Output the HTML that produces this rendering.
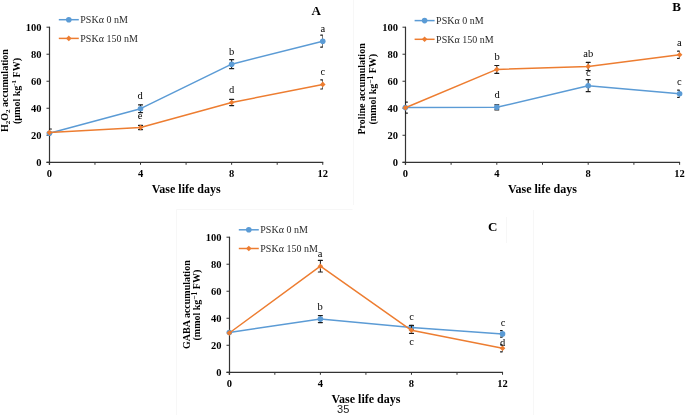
<!DOCTYPE html>
<html><head><meta charset="utf-8"><style>
html,body{margin:0;padding:0;background:#fff;width:685px;height:417px;overflow:hidden}
svg{display:block;will-change:transform;filter:blur(0.3px)}
text{font-family:"Liberation Serif",serif}
.tl{font-size:10.5px;font-weight:bold;fill:#000}
.sl{font-size:10.5px;fill:#000}
.lg{font-size:10px;fill:#2a2a2a}
.al{}
.xt{font-size:12px;font-weight:bold;fill:#000}
.pl{font-size:13px;font-weight:bold;fill:#000}
.yt{font-size:10px;font-weight:bold;fill:#000}
.sub,.sup{font-size:7px}
.sup2{font-size:7.5px}
.pn{font-family:"Liberation Sans",sans-serif;font-size:11px;fill:#222}
</style></head><body>
<svg width="685" height="417" viewBox="0 0 685 417">
<path d="M176.5 415V209.5H352.5M506.5 217V243M533.5 210V415M353.5 0V205" fill="none" stroke="#f7f7f7" stroke-width="1"/>
<line x1="49.5" y1="26.70" x2="49.5" y2="164.80" stroke="#333333" stroke-width="1.2"/>
<line x1="46.50" y1="162.3" x2="323.26" y2="162.3" stroke="#333333" stroke-width="1.3"/>
<line x1="46.50" y1="162.30" x2="49.5" y2="162.30" stroke="#333333" stroke-width="1"/>
<text x="41.60" y="165.90" text-anchor="end" class="tl">0</text>
<line x1="46.50" y1="135.28" x2="49.5" y2="135.28" stroke="#333333" stroke-width="1"/>
<text x="41.60" y="138.88" text-anchor="end" class="tl">20</text>
<line x1="46.50" y1="108.26" x2="49.5" y2="108.26" stroke="#333333" stroke-width="1"/>
<text x="41.60" y="111.86" text-anchor="end" class="tl">40</text>
<line x1="46.50" y1="81.24" x2="49.5" y2="81.24" stroke="#333333" stroke-width="1"/>
<text x="41.60" y="84.84" text-anchor="end" class="tl">60</text>
<line x1="46.50" y1="54.22" x2="49.5" y2="54.22" stroke="#333333" stroke-width="1"/>
<text x="41.60" y="57.82" text-anchor="end" class="tl">80</text>
<line x1="46.50" y1="27.20" x2="49.5" y2="27.20" stroke="#333333" stroke-width="1"/>
<text x="41.60" y="30.80" text-anchor="end" class="tl">100</text>
<line x1="49.40" y1="162.3" x2="49.40" y2="164.80" stroke="#333333" stroke-width="1"/>
<text x="49.40" y="177.00" text-anchor="middle" class="tl">0</text>
<line x1="94.96" y1="162.3" x2="94.96" y2="164.80" stroke="#333333" stroke-width="1"/>
<line x1="140.52" y1="162.3" x2="140.52" y2="164.80" stroke="#333333" stroke-width="1"/>
<text x="140.52" y="177.00" text-anchor="middle" class="tl">4</text>
<line x1="186.08" y1="162.3" x2="186.08" y2="164.80" stroke="#333333" stroke-width="1"/>
<line x1="231.64" y1="162.3" x2="231.64" y2="164.80" stroke="#333333" stroke-width="1"/>
<text x="231.64" y="177.00" text-anchor="middle" class="tl">8</text>
<line x1="277.20" y1="162.3" x2="277.20" y2="164.80" stroke="#333333" stroke-width="1"/>
<line x1="322.76" y1="162.3" x2="322.76" y2="164.80" stroke="#333333" stroke-width="1"/>
<text x="322.76" y="177.00" text-anchor="middle" class="tl">12</text>
<clipPath id="clipA"><rect x="49.40" y="0" width="273.36" height="500"/></clipPath>
<g clip-path="url(#clipA)"><line x1="49.40" y1="129.00" x2="49.40" y2="133.20" stroke="#1a1a1a" stroke-width="1"/><line x1="47.40" y1="129.00" x2="51.40" y2="129.00" stroke="#1a1a1a" stroke-width="1.2" stroke-linecap="round"/><line x1="140.52" y1="104.80" x2="140.52" y2="112.60" stroke="#1a1a1a" stroke-width="1"/><line x1="138.52" y1="104.80" x2="142.52" y2="104.80" stroke="#1a1a1a" stroke-width="1.2" stroke-linecap="round"/><line x1="138.52" y1="112.60" x2="142.52" y2="112.60" stroke="#1a1a1a" stroke-width="1.2" stroke-linecap="round"/><line x1="231.64" y1="59.70" x2="231.64" y2="68.70" stroke="#1a1a1a" stroke-width="1"/><line x1="229.64" y1="59.70" x2="233.64" y2="59.70" stroke="#1a1a1a" stroke-width="1.2" stroke-linecap="round"/><line x1="229.64" y1="68.70" x2="233.64" y2="68.70" stroke="#1a1a1a" stroke-width="1.2" stroke-linecap="round"/><line x1="322.76" y1="35.20" x2="322.76" y2="47.20" stroke="#1a1a1a" stroke-width="1"/><line x1="320.76" y1="35.20" x2="324.76" y2="35.20" stroke="#1a1a1a" stroke-width="1.2" stroke-linecap="round"/><line x1="320.76" y1="47.20" x2="324.76" y2="47.20" stroke="#1a1a1a" stroke-width="1.2" stroke-linecap="round"/></g>
<polyline points="49.40,133.20 140.52,108.70 231.64,64.20 322.76,41.20" fill="none" stroke="#5b9bd5" stroke-width="1.5" stroke-linejoin="round"/>
<circle cx="49.40" cy="133.20" r="2.8" fill="#5b9bd5"/>
<circle cx="140.52" cy="108.70" r="2.8" fill="#5b9bd5"/>
<circle cx="231.64" cy="64.20" r="2.8" fill="#5b9bd5"/>
<circle cx="322.76" cy="41.20" r="2.8" fill="#5b9bd5"/>
<g clip-path="url(#clipA)"><line x1="140.52" y1="125.40" x2="140.52" y2="129.60" stroke="#1a1a1a" stroke-width="1"/><line x1="138.52" y1="125.40" x2="142.52" y2="125.40" stroke="#1a1a1a" stroke-width="1.2" stroke-linecap="round"/><line x1="138.52" y1="129.60" x2="142.52" y2="129.60" stroke="#1a1a1a" stroke-width="1.2" stroke-linecap="round"/><line x1="231.64" y1="99.45" x2="231.64" y2="105.55" stroke="#1a1a1a" stroke-width="1"/><line x1="229.64" y1="99.45" x2="233.64" y2="99.45" stroke="#1a1a1a" stroke-width="1.2" stroke-linecap="round"/><line x1="229.64" y1="105.55" x2="233.64" y2="105.55" stroke="#1a1a1a" stroke-width="1.2" stroke-linecap="round"/><line x1="322.76" y1="79.80" x2="322.76" y2="89.00" stroke="#1a1a1a" stroke-width="1"/><line x1="320.76" y1="79.80" x2="324.76" y2="79.80" stroke="#1a1a1a" stroke-width="1.2" stroke-linecap="round"/><line x1="320.76" y1="89.00" x2="324.76" y2="89.00" stroke="#1a1a1a" stroke-width="1.2" stroke-linecap="round"/></g>
<polyline points="49.40,132.60 140.52,127.50 231.64,102.50 322.76,84.40" fill="none" stroke="#ed7d31" stroke-width="1.5" stroke-linejoin="round"/>
<path d="M49.40 129.80L52.20 132.60L49.40 135.40L46.60 132.60Z" fill="#ed7d31"/>
<path d="M140.52 124.70L143.32 127.50L140.52 130.30L137.72 127.50Z" fill="#ed7d31"/>
<path d="M231.64 99.70L234.44 102.50L231.64 105.30L228.84 102.50Z" fill="#ed7d31"/>
<path d="M322.76 81.60L325.56 84.40L322.76 87.20L319.96 84.40Z" fill="#ed7d31"/>
<text x="322.90" y="31.90" text-anchor="middle" class="sl">a</text>
<text x="322.90" y="74.70" text-anchor="middle" class="sl">c</text>
<text x="231.60" y="54.70" text-anchor="middle" class="sl">b</text>
<text x="231.50" y="93.30" text-anchor="middle" class="sl">d</text>
<text x="140.00" y="98.90" text-anchor="middle" class="sl">d</text>
<text x="140.00" y="118.50" text-anchor="middle" class="sl">e</text>
<line x1="58.8" y1="19.7" x2="78.8" y2="19.7" stroke="#5b9bd5" stroke-width="1.5"/>
<circle cx="68.8" cy="19.7" r="2.8" fill="#5b9bd5"/>
<text x="80.3" y="23.0" class="lg">PSK<tspan class="al">α</tspan> 0 nM</text>
<line x1="58.8" y1="38.4" x2="78.8" y2="38.4" stroke="#ed7d31" stroke-width="1.5"/>
<path d="M68.8 35.6L71.6 38.4L68.8 41.199999999999996L66.0 38.4Z" fill="#ed7d31"/>
<text x="80.3" y="41.699999999999996" class="lg">PSK<tspan class="al">α</tspan> 150 nM</text>
<text x="186.20" y="192.70" text-anchor="middle" class="xt">Vase life days</text>
<text x="316.10" y="14.50" text-anchor="middle" class="pl">A</text>
<text transform="translate(8.20,90.60) rotate(-90)" text-anchor="middle" class="yt">H<tspan class="sub" dy="2">2</tspan><tspan dy="-2">O</tspan><tspan class="sub" dy="2">2</tspan><tspan dy="-2"> accumulation</tspan></text>
<text transform="translate(19.80,91.00) rotate(-90)" text-anchor="middle" class="yt">(µmol kg<tspan class="sup" dy="-3.5">-1</tspan><tspan dy="3.5"> FW)</tspan></text>
<line x1="405.5" y1="26.70" x2="405.5" y2="164.80" stroke="#333333" stroke-width="1.2"/>
<line x1="402.50" y1="162.3" x2="680.10" y2="162.3" stroke="#333333" stroke-width="1.3"/>
<line x1="402.50" y1="162.30" x2="405.5" y2="162.30" stroke="#333333" stroke-width="1"/>
<text x="398.00" y="165.90" text-anchor="end" class="tl">0</text>
<line x1="402.50" y1="135.28" x2="405.5" y2="135.28" stroke="#333333" stroke-width="1"/>
<text x="398.00" y="138.88" text-anchor="end" class="tl">20</text>
<line x1="402.50" y1="108.26" x2="405.5" y2="108.26" stroke="#333333" stroke-width="1"/>
<text x="398.00" y="111.86" text-anchor="end" class="tl">40</text>
<line x1="402.50" y1="81.24" x2="405.5" y2="81.24" stroke="#333333" stroke-width="1"/>
<text x="398.00" y="84.84" text-anchor="end" class="tl">60</text>
<line x1="402.50" y1="54.22" x2="405.5" y2="54.22" stroke="#333333" stroke-width="1"/>
<text x="398.00" y="57.82" text-anchor="end" class="tl">80</text>
<line x1="402.50" y1="27.20" x2="405.5" y2="27.20" stroke="#333333" stroke-width="1"/>
<text x="398.00" y="30.80" text-anchor="end" class="tl">100</text>
<line x1="405.40" y1="162.3" x2="405.40" y2="164.80" stroke="#333333" stroke-width="1"/>
<text x="405.40" y="177.00" text-anchor="middle" class="tl">0</text>
<line x1="451.10" y1="162.3" x2="451.10" y2="164.80" stroke="#333333" stroke-width="1"/>
<line x1="496.80" y1="162.3" x2="496.80" y2="164.80" stroke="#333333" stroke-width="1"/>
<text x="496.80" y="177.00" text-anchor="middle" class="tl">4</text>
<line x1="542.50" y1="162.3" x2="542.50" y2="164.80" stroke="#333333" stroke-width="1"/>
<line x1="588.20" y1="162.3" x2="588.20" y2="164.80" stroke="#333333" stroke-width="1"/>
<text x="588.20" y="177.00" text-anchor="middle" class="tl">8</text>
<line x1="633.90" y1="162.3" x2="633.90" y2="164.80" stroke="#333333" stroke-width="1"/>
<line x1="679.60" y1="162.3" x2="679.60" y2="164.80" stroke="#333333" stroke-width="1"/>
<text x="679.60" y="177.00" text-anchor="middle" class="tl">12</text>
<clipPath id="clipB"><rect x="405.40" y="0" width="274.20" height="500"/></clipPath>
<g clip-path="url(#clipB)"><line x1="405.40" y1="102.10" x2="405.40" y2="113.10" stroke="#1a1a1a" stroke-width="1"/><line x1="403.40" y1="102.10" x2="407.40" y2="102.10" stroke="#1a1a1a" stroke-width="1.2" stroke-linecap="round"/><line x1="403.40" y1="113.10" x2="407.40" y2="113.10" stroke="#1a1a1a" stroke-width="1.2" stroke-linecap="round"/><line x1="496.80" y1="104.80" x2="496.80" y2="109.80" stroke="#1a1a1a" stroke-width="1"/><line x1="494.80" y1="104.80" x2="498.80" y2="104.80" stroke="#1a1a1a" stroke-width="1.2" stroke-linecap="round"/><line x1="494.80" y1="109.80" x2="498.80" y2="109.80" stroke="#1a1a1a" stroke-width="1.2" stroke-linecap="round"/><line x1="588.20" y1="79.70" x2="588.20" y2="91.70" stroke="#1a1a1a" stroke-width="1"/><line x1="586.20" y1="79.70" x2="590.20" y2="79.70" stroke="#1a1a1a" stroke-width="1.2" stroke-linecap="round"/><line x1="586.20" y1="91.70" x2="590.20" y2="91.70" stroke="#1a1a1a" stroke-width="1.2" stroke-linecap="round"/><line x1="679.60" y1="90.10" x2="679.60" y2="97.30" stroke="#1a1a1a" stroke-width="1"/><line x1="677.60" y1="90.10" x2="681.60" y2="90.10" stroke="#1a1a1a" stroke-width="1.2" stroke-linecap="round"/><line x1="677.60" y1="97.30" x2="681.60" y2="97.30" stroke="#1a1a1a" stroke-width="1.2" stroke-linecap="round"/></g>
<polyline points="405.40,107.60 496.80,107.30 588.20,85.70 679.60,93.70" fill="none" stroke="#5b9bd5" stroke-width="1.5" stroke-linejoin="round"/>
<circle cx="405.40" cy="107.60" r="2.8" fill="#5b9bd5"/>
<circle cx="496.80" cy="107.30" r="2.8" fill="#5b9bd5"/>
<circle cx="588.20" cy="85.70" r="2.8" fill="#5b9bd5"/>
<circle cx="679.60" cy="93.70" r="2.8" fill="#5b9bd5"/>
<g clip-path="url(#clipB)"><line x1="496.80" y1="65.50" x2="496.80" y2="73.30" stroke="#1a1a1a" stroke-width="1"/><line x1="494.80" y1="65.50" x2="498.80" y2="65.50" stroke="#1a1a1a" stroke-width="1.2" stroke-linecap="round"/><line x1="494.80" y1="73.30" x2="498.80" y2="73.30" stroke="#1a1a1a" stroke-width="1.2" stroke-linecap="round"/><line x1="588.20" y1="62.30" x2="588.20" y2="70.50" stroke="#1a1a1a" stroke-width="1"/><line x1="586.20" y1="62.30" x2="590.20" y2="62.30" stroke="#1a1a1a" stroke-width="1.2" stroke-linecap="round"/><line x1="586.20" y1="70.50" x2="590.20" y2="70.50" stroke="#1a1a1a" stroke-width="1.2" stroke-linecap="round"/><line x1="679.60" y1="51.20" x2="679.60" y2="58.40" stroke="#1a1a1a" stroke-width="1"/><line x1="677.60" y1="51.20" x2="681.60" y2="51.20" stroke="#1a1a1a" stroke-width="1.2" stroke-linecap="round"/><line x1="677.60" y1="58.40" x2="681.60" y2="58.40" stroke="#1a1a1a" stroke-width="1.2" stroke-linecap="round"/></g>
<polyline points="405.40,107.80 496.80,69.40 588.20,66.40 679.60,54.80" fill="none" stroke="#ed7d31" stroke-width="1.5" stroke-linejoin="round"/>
<path d="M405.40 105.00L408.20 107.80L405.40 110.60L402.60 107.80Z" fill="#ed7d31"/>
<path d="M496.80 66.60L499.60 69.40L496.80 72.20L494.00 69.40Z" fill="#ed7d31"/>
<path d="M588.20 63.60L591.00 66.40L588.20 69.20L585.40 66.40Z" fill="#ed7d31"/>
<path d="M679.60 52.00L682.40 54.80L679.60 57.60L676.80 54.80Z" fill="#ed7d31"/>
<text x="497.10" y="60.10" text-anchor="middle" class="sl">b</text>
<text x="497.00" y="98.00" text-anchor="middle" class="sl">d</text>
<text x="588.30" y="56.90" text-anchor="middle" class="sl">ab</text>
<text x="588.30" y="76.20" text-anchor="middle" class="sl">c</text>
<text x="679.40" y="45.70" text-anchor="middle" class="sl">a</text>
<text x="679.30" y="84.70" text-anchor="middle" class="sl">c</text>
<line x1="414.6" y1="20.6" x2="434.6" y2="20.6" stroke="#5b9bd5" stroke-width="1.5"/>
<circle cx="424.6" cy="20.6" r="2.8" fill="#5b9bd5"/>
<text x="436.1" y="23.900000000000002" class="lg">PSK<tspan class="al">α</tspan> 0 nM</text>
<line x1="414.6" y1="39.3" x2="434.6" y2="39.3" stroke="#ed7d31" stroke-width="1.5"/>
<path d="M424.6 36.5L427.40000000000003 39.3L424.6 42.099999999999994L421.8 39.3Z" fill="#ed7d31"/>
<text x="436.1" y="42.599999999999994" class="lg">PSK<tspan class="al">α</tspan> 150 nM</text>
<text x="542.40" y="192.70" text-anchor="middle" class="xt">Vase life days</text>
<text x="676.50" y="10.90" text-anchor="middle" class="pl">B</text>
<text transform="translate(365.30,88.90) rotate(-90)" text-anchor="middle" class="yt">Proline accumulation</text>
<text transform="translate(376.00,89.20) rotate(-90)" text-anchor="middle" class="yt">(mmol kg<tspan class="sup2" dy="-3.5">−1</tspan><tspan dy="3.5"> FW)</tspan></text>
<line x1="229.5" y1="236.70" x2="229.5" y2="374.80" stroke="#333333" stroke-width="1.2"/>
<line x1="226.50" y1="372.3" x2="503.04" y2="372.3" stroke="#333333" stroke-width="1.3"/>
<line x1="226.50" y1="372.30" x2="229.5" y2="372.30" stroke="#333333" stroke-width="1"/>
<text x="221.40" y="375.90" text-anchor="end" class="tl">0</text>
<line x1="226.50" y1="345.28" x2="229.5" y2="345.28" stroke="#333333" stroke-width="1"/>
<text x="221.40" y="348.88" text-anchor="end" class="tl">20</text>
<line x1="226.50" y1="318.26" x2="229.5" y2="318.26" stroke="#333333" stroke-width="1"/>
<text x="221.40" y="321.86" text-anchor="end" class="tl">40</text>
<line x1="226.50" y1="291.24" x2="229.5" y2="291.24" stroke="#333333" stroke-width="1"/>
<text x="221.40" y="294.84" text-anchor="end" class="tl">60</text>
<line x1="226.50" y1="264.22" x2="229.5" y2="264.22" stroke="#333333" stroke-width="1"/>
<text x="221.40" y="267.82" text-anchor="end" class="tl">80</text>
<line x1="226.50" y1="237.20" x2="229.5" y2="237.20" stroke="#333333" stroke-width="1"/>
<text x="221.40" y="240.80" text-anchor="end" class="tl">100</text>
<line x1="229.30" y1="372.3" x2="229.30" y2="374.80" stroke="#333333" stroke-width="1"/>
<text x="229.30" y="387.00" text-anchor="middle" class="tl">0</text>
<line x1="274.84" y1="372.3" x2="274.84" y2="374.80" stroke="#333333" stroke-width="1"/>
<line x1="320.38" y1="372.3" x2="320.38" y2="374.80" stroke="#333333" stroke-width="1"/>
<text x="320.38" y="387.00" text-anchor="middle" class="tl">4</text>
<line x1="365.92" y1="372.3" x2="365.92" y2="374.80" stroke="#333333" stroke-width="1"/>
<line x1="411.46" y1="372.3" x2="411.46" y2="374.80" stroke="#333333" stroke-width="1"/>
<text x="411.46" y="387.00" text-anchor="middle" class="tl">8</text>
<line x1="457.00" y1="372.3" x2="457.00" y2="374.80" stroke="#333333" stroke-width="1"/>
<line x1="502.54" y1="372.3" x2="502.54" y2="374.80" stroke="#333333" stroke-width="1"/>
<text x="502.54" y="387.00" text-anchor="middle" class="tl">12</text>
<clipPath id="clipC"><rect x="229.30" y="0" width="273.24" height="500"/></clipPath>
<g clip-path="url(#clipC)"><line x1="320.38" y1="315.60" x2="320.38" y2="322.60" stroke="#1a1a1a" stroke-width="1"/><line x1="318.38" y1="315.60" x2="322.38" y2="315.60" stroke="#1a1a1a" stroke-width="1.2" stroke-linecap="round"/><line x1="318.38" y1="322.60" x2="322.38" y2="322.60" stroke="#1a1a1a" stroke-width="1.2" stroke-linecap="round"/><line x1="411.46" y1="325.60" x2="411.46" y2="329.60" stroke="#1a1a1a" stroke-width="1"/><line x1="409.46" y1="325.60" x2="413.46" y2="325.60" stroke="#1a1a1a" stroke-width="1.2" stroke-linecap="round"/><line x1="409.46" y1="329.60" x2="413.46" y2="329.60" stroke="#1a1a1a" stroke-width="1.2" stroke-linecap="round"/><line x1="502.54" y1="330.70" x2="502.54" y2="337.10" stroke="#1a1a1a" stroke-width="1"/><line x1="500.54" y1="330.70" x2="504.54" y2="330.70" stroke="#1a1a1a" stroke-width="1.2" stroke-linecap="round"/><line x1="500.54" y1="337.10" x2="504.54" y2="337.10" stroke="#1a1a1a" stroke-width="1.2" stroke-linecap="round"/></g>
<polyline points="229.30,332.50 320.38,319.10 411.46,327.60 502.54,333.90" fill="none" stroke="#5b9bd5" stroke-width="1.5" stroke-linejoin="round"/>
<circle cx="229.30" cy="332.50" r="2.8" fill="#5b9bd5"/>
<circle cx="320.38" cy="319.10" r="2.8" fill="#5b9bd5"/>
<circle cx="411.46" cy="327.60" r="2.8" fill="#5b9bd5"/>
<circle cx="502.54" cy="333.90" r="2.8" fill="#5b9bd5"/>
<g clip-path="url(#clipC)"><line x1="320.38" y1="260.40" x2="320.38" y2="272.00" stroke="#1a1a1a" stroke-width="1"/><line x1="318.38" y1="260.40" x2="322.38" y2="260.40" stroke="#1a1a1a" stroke-width="1.2" stroke-linecap="round"/><line x1="318.38" y1="272.00" x2="322.38" y2="272.00" stroke="#1a1a1a" stroke-width="1.2" stroke-linecap="round"/><line x1="411.46" y1="325.40" x2="411.46" y2="333.40" stroke="#1a1a1a" stroke-width="1"/><line x1="409.46" y1="325.40" x2="413.46" y2="325.40" stroke="#1a1a1a" stroke-width="1.2" stroke-linecap="round"/><line x1="409.46" y1="333.40" x2="413.46" y2="333.40" stroke="#1a1a1a" stroke-width="1.2" stroke-linecap="round"/><line x1="502.54" y1="344.80" x2="502.54" y2="351.80" stroke="#1a1a1a" stroke-width="1"/><line x1="500.54" y1="344.80" x2="504.54" y2="344.80" stroke="#1a1a1a" stroke-width="1.2" stroke-linecap="round"/><line x1="500.54" y1="351.80" x2="504.54" y2="351.80" stroke="#1a1a1a" stroke-width="1.2" stroke-linecap="round"/></g>
<polyline points="229.30,333.00 320.38,266.20 411.46,330.30 502.54,348.30" fill="none" stroke="#ed7d31" stroke-width="1.5" stroke-linejoin="round"/>
<path d="M229.30 330.20L232.10 333.00L229.30 335.80L226.50 333.00Z" fill="#ed7d31"/>
<path d="M320.38 263.40L323.18 266.20L320.38 269.00L317.58 266.20Z" fill="#ed7d31"/>
<path d="M411.46 327.50L414.26 330.30L411.46 333.10L408.66 330.30Z" fill="#ed7d31"/>
<path d="M502.54 345.50L505.34 348.30L502.54 351.10L499.74 348.30Z" fill="#ed7d31"/>
<text x="320.20" y="257.00" text-anchor="middle" class="sl">a</text>
<text x="320.20" y="309.90" text-anchor="middle" class="sl">b</text>
<text x="411.60" y="319.50" text-anchor="middle" class="sl">c</text>
<text x="411.60" y="345.40" text-anchor="middle" class="sl">c</text>
<text x="503.10" y="325.50" text-anchor="middle" class="sl">c</text>
<text x="502.70" y="345.90" text-anchor="middle" class="sl">d</text>
<line x1="238.8" y1="229.8" x2="258.8" y2="229.8" stroke="#5b9bd5" stroke-width="1.5"/>
<circle cx="248.8" cy="229.8" r="2.8" fill="#5b9bd5"/>
<text x="260.3" y="233.10000000000002" class="lg">PSK<tspan class="al">α</tspan> 0 nM</text>
<line x1="238.8" y1="248.5" x2="258.8" y2="248.5" stroke="#ed7d31" stroke-width="1.5"/>
<path d="M248.8 245.7L251.60000000000002 248.5L248.8 251.3L246.0 248.5Z" fill="#ed7d31"/>
<text x="260.3" y="251.8" class="lg">PSK<tspan class="al">α</tspan> 150 nM</text>
<text x="366.00" y="402.70" text-anchor="middle" class="xt">Vase life days</text>
<text x="492.60" y="231.40" text-anchor="middle" class="pl">C</text>
<text transform="translate(190.00,304.60) rotate(-90)" text-anchor="middle" class="yt">GABA accumulation</text>
<text transform="translate(200.40,305.10) rotate(-90)" text-anchor="middle" class="yt">(mmol kg<tspan class="sup2" dy="-3.5">−1</tspan><tspan dy="3.5"> FW)</tspan></text>
<text x="343.2" y="412.6" text-anchor="middle" class="pn">35</text>
</svg>
</body></html>
